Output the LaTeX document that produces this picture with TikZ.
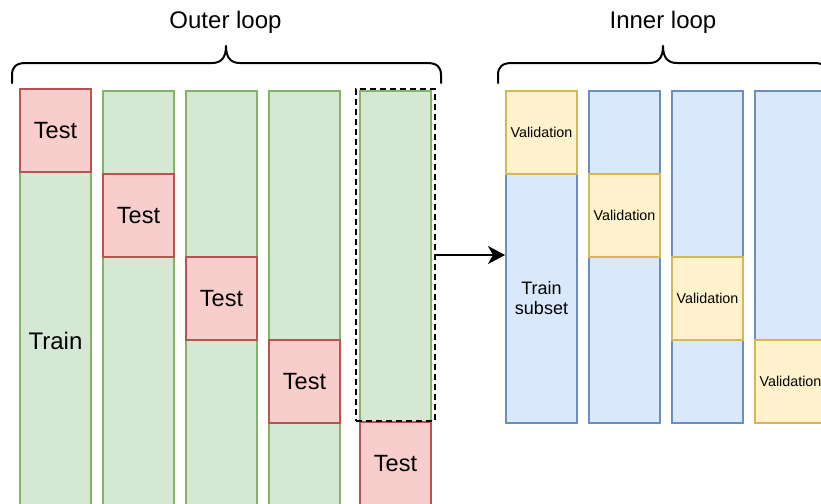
\documentclass[tikz,border=0pt]{standalone}
\usepackage{fontspec}
\setmainfont{Liberation Sans}
\usetikzlibrary{arrows.meta}

\definecolor{greenfill}{HTML}{D5E8D4}
\definecolor{greenline}{HTML}{82B366}
\definecolor{redfill}{HTML}{F8CECC}
\definecolor{redline}{HTML}{B85450}
\definecolor{yellowfill}{HTML}{FFF2CC}
\definecolor{yellowline}{HTML}{D6B656}
\definecolor{bluefill}{HTML}{DAE8FC}
\definecolor{blueline}{HTML}{6C8EBF}

\tikzset{
  cell/.style={rectangle, anchor=north west, inner sep=0pt, line width=2pt,
    minimum width=71pt, text=black, align=center},
  trainbox/.style={cell, fill=greenfill, draw=greenline},
  testbox/.style={cell, fill=redfill, draw=redline, minimum height=83pt,
    font=\fontsize{23.5}{27}\selectfont},
  valbox/.style={cell, fill=yellowfill, draw=yellowline, minimum height=83pt,
    font=\fontsize{14.3}{17}\selectfont},
  subbox/.style={cell, fill=bluefill, draw=blueline},
  brace/.style={line width=2pt, line cap=round, line join=round},
  title/.style={font=\fontsize{24}{28}\selectfont},
  selection/.style={rectangle, anchor=north west, inner sep=0pt, draw=black,
    line width=2pt, dash pattern=on 6pt off 4pt},
  arrow/.style={line width=2pt, -{Stealth[length=17pt,width=18pt,inset=5pt]}}
}

\begin{document}
\begin{tikzpicture}[x=1pt, y=-1pt]
\useasboundingbox (0,0) rectangle (821,503);
\clip (0,0) rectangle (821,503);

% ---- outer loop: five folds ----
\node[trainbox, minimum height=337pt, font=\fontsize{24}{28}\selectfont] (tr1) at (19,171) {Train};
\node[testbox] (te1) at (19,88) {Test};

\node[trainbox, minimum height=416pt] (tr2) at (102,90) {};
\node[testbox] (te2) at (102,173) {Test};

\node[trainbox, minimum height=416pt] (tr3) at (185,90) {};
\node[testbox] (te3) at (185,256) {Test};

\node[trainbox, minimum height=416pt] (tr4) at (268,90) {};
\node[testbox] (te4) at (268,339) {Test};

\node[trainbox, minimum height=331pt] (tr5) at (359,90) {};
\node[testbox] (te5) at (359,421) {Test};

% selected training set, handed to the inner loop
\node[selection, minimum width=79pt, minimum height=332pt] (sel) at (355,88) {};

% ---- inner loop: four folds of the training set ----
\node[subbox, minimum height=249pt, font=\fontsize{18}{20}\selectfont] (sa) at (505,173) {Train\\subset};
\node[valbox] (va) at (505,90) {Validation};

\node[subbox, minimum height=332pt] (sb) at (588,90) {};
\node[valbox] (vb) at (588,173) {Validation};

\node[subbox, minimum height=332pt] (sc) at (671,90) {};
\node[valbox] (vc) at (671,256) {Validation};

\node[subbox, minimum height=332pt] (sd) at (754,90) {};
\node[valbox] (vd) at (754,339) {Validation};

% ---- arrow from the selected fold to the inner loop ----
\draw[arrow] (sel.east) -- (sel.east -| sa.west);

% ---- braces and titles ----
\draw[brace] (12,83) -- (12,75) .. controls (12,67) and (16,63) .. (26,63)
  -- (212,63) .. controls (221,63) and (226,58) .. (226,46)
  .. controls (226,58) and (231,63) .. (240,63)
  -- (427,63) .. controls (437,63) and (441,67) .. (441,75) -- (441,83);
\node[title] (outer) at (225.5,22) {Outer loop};

\draw[brace] (498,83) -- (498,75) .. controls (498,67) and (502,63) .. (512,63)
  -- (649,63) .. controls (658,63) and (663,58) .. (663,46)
  .. controls (663,58) and (668,63) .. (677,63)
  -- (814,63) .. controls (824,63) and (828,67) .. (828,75) -- (828,83);
\node[title] (inner) at (663,22) {Inner loop};
\end{tikzpicture}
\end{document}
